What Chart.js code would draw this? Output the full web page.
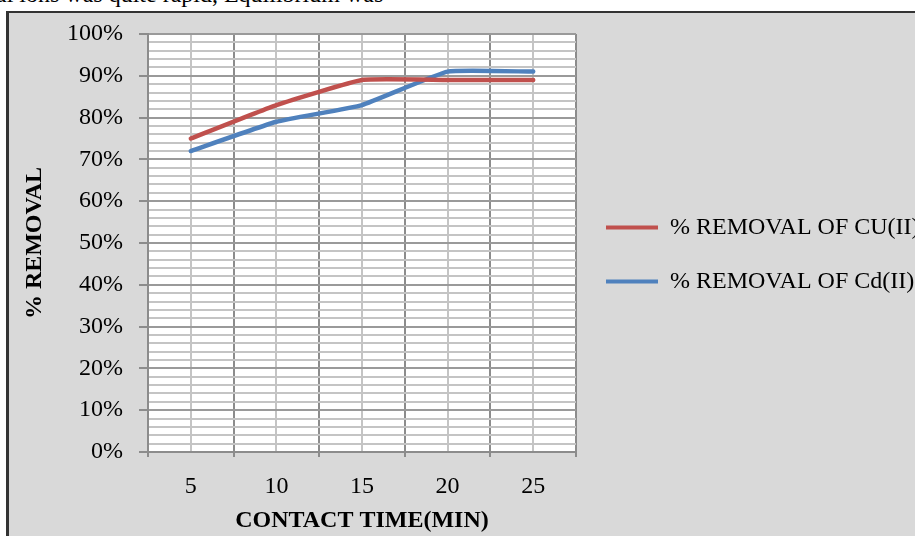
<!DOCTYPE html>
<html>
<head>
<meta charset="utf-8">
<script src="https://cdn.jsdelivr.net/npm/chart.js@4/dist/chart.umd.min.js"></script>
<style>
  html, body { margin: 0; padding: 0; width: 915px; height: 536px; overflow: hidden; background: #fff; }
  #lead { position: absolute; left: -4px; top: -18px; font: 24px/24px "Liberation Serif", "Times New Roman", serif; color: #000; white-space: nowrap; }
  #frame { position: absolute; left: 6px; top: 11px; width: 1000px; height: 600px; background: #d9d9d9;
           border-left: 3px solid #333; border-top: 2px solid #333; box-sizing: border-box; }
  #c { position: absolute; left: 0; top: 0; }
</style>
</head>
<body>
<div id="lead">al ions was quite rapid, Equilibrium was</div>
<div id="frame"></div>
<canvas id="c" width="915" height="536"></canvas>
<script>
// Contact time (min) and removal percentages for each metal ion
const contactTime = ['5', '10', '15', '20', '25'];
const removalCu = [75, 83, 89, 89, 89];
const removalCd = [72, 79, 83, 91, 91];
const seriesNames = ['% REMOVAL OF CU(II)', '% REMOVAL OF Cd(II)'];
const seriesColors = ['#c0504d', '#4f81bd'];
const percentRange = [0, 100];
const majorStep = 10;
const minorStep = 2;

const serif = "'Liberation Serif', 'Times New Roman', serif";
const majorGrid = '#8c8c8c';
const minorGrid = '#c4c4c4';

// white plotting area inside the grey chart frame
const plotBackground = {
  id: 'plotBackground',
  beforeDraw(chart) {
    const { ctx, chartArea: a } = chart;
    ctx.save();
    ctx.fillStyle = '#ffffff';
    ctx.fillRect(a.left, a.top, a.right - a.left, a.bottom - a.top);
    ctx.restore();
  }
};

const lineSeries = (label, data, color) => ({
  label, data,
  borderColor: color,
  backgroundColor: color,
  borderWidth: 4.5,
  pointRadius: 0,
  tension: 0.12,
  borderCapStyle: 'round',
  borderJoinStyle: 'round',
  xAxisID: 'x',
  yAxisID: 'y'
});

new Chart(document.getElementById('c'), {
  type: 'line',
  data: {
    labels: contactTime,
    datasets: [
      lineSeries(seriesNames[0], removalCu, seriesColors[0]),
      lineSeries(seriesNames[1], removalCd, seriesColors[1])
    ]
  },
  options: {
    responsive: false,
    animation: false,
    devicePixelRatio: 1,
    layout: { padding: { left: 0, top: 34, right: 0, bottom: 0 } },
    plugins: {
      tooltip: { enabled: false },
      legend: {
        position: 'right',
        align: 'center',
        fullSize: false,
        maxWidth: 339,
        title: { display: true, text: ' ', font: { size: 10 }, padding: { top: 0, bottom: 11 } },
        labels: {
          boxWidth: 52,
          boxHeight: 4,
          padding: 30,
          color: '#000',
          font: { family: serif, size: 24 },
          generateLabels(chart) {
            return Chart.defaults.plugins.legend.labels.generateLabels(chart)
              .map(item => ({ ...item, lineWidth: 0 }));
          }
        }
      }
    },
    scales: {
      x: {
        type: 'category',
        offset: true,
        grid: { offset: true, color: majorGrid, lineWidth: 2, tickLength: 5, tickColor: majorGrid },
        border: { color: majorGrid, width: 2 },
        ticks: { font: { family: serif, size: 24 }, color: '#000', padding: 15, maxRotation: 0, autoSkip: false },
        title: {
          display: true, text: 'CONTACT TIME(MIN)', color: '#000',
          font: { family: serif, size: 24, weight: 'bold' },
          padding: { top: 0, bottom: 1 }
        },
        afterFit(scale) { scale.height = 84; }
      },
      xMinor: {
        type: 'category',
        position: 'bottom',
        offset: true,
        grid: { offset: false, color: minorGrid, lineWidth: 2, drawTicks: false },
        border: { display: false },
        ticks: { display: false },
        afterFit(scale) { scale.height = 0; }
      },
      y: {
        min: percentRange[0],
        max: percentRange[1],
        ticks: {
          stepSize: minorStep,
          autoSkip: false,
          padding: 16,
          color: '#000',
          font: { family: serif, size: 24 },
          callback: v => (v % majorStep === 0 ? v + '%' : '')
        },
        grid: {
          lineWidth: 2,
          tickLength: 9,
          color: c => (c.tick && c.tick.value % majorStep === 0 ? '#9a9a9a' : minorGrid),
          tickColor: c => (c.tick && c.tick.value % majorStep === 0 ? majorGrid : 'rgba(0,0,0,0)')
        },
        border: { color: majorGrid, width: 2 },
        title: {
          display: true, text: '% REMOVAL', color: '#000',
          font: { family: serif, size: 24, weight: 'bold' },
          padding: { top: 20, bottom: 0 }
        },
        afterFit(scale) { scale.width = 148; }
      }
    }
  },
  plugins: [plotBackground]
});
</script>
</body>
</html>
